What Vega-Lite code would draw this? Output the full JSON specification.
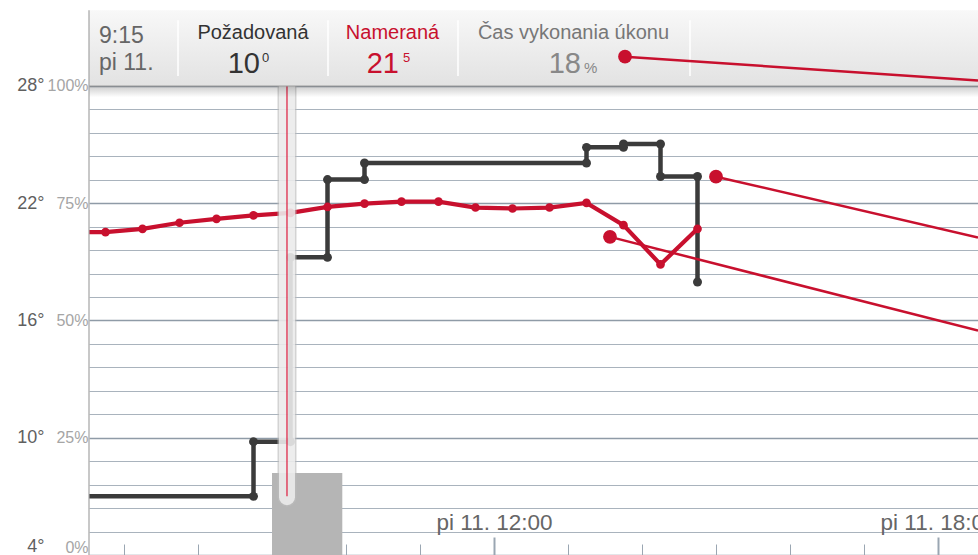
{
  "$schema": "https://vega.github.io/schema/vega-lite/v6.json",
  "width": 889,
  "height": 555,
  "autosize": {"type": "none"},
  "padding": {"left": 89, "top": 0, "right": 0, "bottom": 0},
  "background": "white",
  "config": {"view": {"stroke": null}, "font": "Liberation Sans", "axis": {"labelFont": "Liberation Sans"}},
  "datasets": {
    "required": [
      {"t": "2014-04-11T06:15:00", "v": 7.0},
      {"t": "2014-04-11T08:45:00", "v": 7.0},
      {"t": "2014-04-11T08:45:00", "v": 9.8},
      {"t": "2014-04-11T09:15:00", "v": 9.8},
      {"t": "2014-04-11T09:15:00", "v": 19.23},
      {"t": "2014-04-11T09:45:00", "v": 19.23},
      {"t": "2014-04-11T09:45:00", "v": 23.21},
      {"t": "2014-04-11T10:15:00", "v": 23.21},
      {"t": "2014-04-11T10:15:00", "v": 24.06},
      {"t": "2014-04-11T13:15:00", "v": 24.06},
      {"t": "2014-04-11T13:15:00", "v": 24.86},
      {"t": "2014-04-11T13:45:00", "v": 24.86},
      {"t": "2014-04-11T13:45:00", "v": 25.03},
      {"t": "2014-04-11T14:15:00", "v": 25.03},
      {"t": "2014-04-11T14:15:00", "v": 23.37},
      {"t": "2014-04-11T14:45:00", "v": 23.37},
      {"t": "2014-04-11T14:45:00", "v": 17.97}
    ],
    "measured": [
      {"t": "2014-04-11T06:15:00", "v": 20.53},
      {"t": "2014-04-11T06:45:00", "v": 20.52},
      {"t": "2014-04-11T07:15:00", "v": 20.69},
      {"t": "2014-04-11T07:45:00", "v": 21.0},
      {"t": "2014-04-11T08:15:00", "v": 21.2},
      {"t": "2014-04-11T08:45:00", "v": 21.38},
      {"t": "2014-04-11T09:15:00", "v": 21.51},
      {"t": "2014-04-11T09:45:00", "v": 21.81},
      {"t": "2014-04-11T10:15:00", "v": 21.98},
      {"t": "2014-04-11T10:45:00", "v": 22.08},
      {"t": "2014-04-11T11:15:00", "v": 22.08},
      {"t": "2014-04-11T11:45:00", "v": 21.78},
      {"t": "2014-04-11T12:15:00", "v": 21.73},
      {"t": "2014-04-11T12:45:00", "v": 21.78},
      {"t": "2014-04-11T13:15:00", "v": 22.02},
      {"t": "2014-04-11T13:45:00", "v": 20.88},
      {"t": "2014-04-11T14:15:00", "v": 18.87},
      {"t": "2014-04-11T14:45:00", "v": 20.69}
    ],
    "action": [
      {"start": "2014-04-11T09:00:00", "end": "2014-04-11T09:57:00", "pct": 17.5}
    ],
    "callouts": [
      {"id": "a", "role": "anchor", "t": "2014-04-11T13:46:13", "v": 29.5},
      {"id": "a", "role": "tail", "t": "2014-04-11T18:32:26", "v": 28.28},
      {"id": "b", "role": "anchor", "t": "2014-04-11T15:00:00", "v": 23.36},
      {"id": "b", "role": "tail", "t": "2014-04-11T18:32:26", "v": 20.25},
      {"id": "c", "role": "anchor", "t": "2014-04-11T13:34:03", "v": 20.28},
      {"id": "c", "role": "tail", "t": "2014-04-11T18:32:26", "v": 15.48}
    ],
    "readout": [
      {"time": "9:15", "day": "pi 11.", "req": "10", "reqDec": "0", "meas": "21", "measDec": "5", "pct": "18"}
    ]
  },
  "resolve": {"scale": {"y": "independent"}, "axis": {"y": "independent"}},
  "layer": [
    {
      "data": {"name": "action"},
      "mark": {"type": "bar", "color": "#b5b5b5"},
      "encoding": {
        "x": {"field": "start", "type": "temporal", "axis": {"title": null},
          "scale": {"nice": false, "domain": [
            {"year": 2014, "month": 4, "date": 11, "hours": 6, "minutes": 31, "seconds": 37},
            {"year": 2014, "month": 4, "date": 11, "hours": 18, "minutes": 32, "seconds": 26}]}},
        "x2": {"field": "end"},
        "y": {"field": "pct", "type": "quantitative",
          "scale": {"domain": [0, 118.33], "nice": false, "zero": false},
          "axis": {
            "orient": "left", "title": null,
            "values": [0, 5, 10, 15, 20, 25, 30, 35, 40, 45, 50, 55, 60, 65, 70, 75, 80, 85, 90, 95, 100],
            "labelExpr": "datum.value % 25 == 0 ? datum.value + '%' : ''",
            "ticks": false, "domain": false, "grid": true,
            "gridColor": {"condition": {"test": "datum.value % 25 == 0", "value": "#8f9ba7"}, "value": "#a9b3bd"},
            "gridWidth": {"condition": {"test": "datum.value % 25 == 0", "value": 1.6}, "value": 1},
            "labelPadding": 1, "labelFontSize": 16, "labelColor": "#a5a5a5", "labelFlush": 3
          }},
        "y2": {"datum": 0}
      }
    },
    {
      "layer": [
        {
          "data": {"name": "required"},
          "mark": {"type": "line", "color": "#3b3b3b", "strokeWidth": 4.5, "clip": true},
          "encoding": {
            "x": {"field": "t", "type": "temporal",
              "scale": {"nice": false, "domain": [
                {"year": 2014, "month": 4, "date": 11, "hours": 6, "minutes": 31, "seconds": 37},
                {"year": 2014, "month": 4, "date": 11, "hours": 18, "minutes": 32, "seconds": 26}]},
              "axis": {
                "title": null, "orient": "bottom", "domain": false, "grid": false,
                "values": [
                  {"year": 2014, "month": 4, "date": 11, "hours": 7},
                  {"year": 2014, "month": 4, "date": 11, "hours": 8},
                  {"year": 2014, "month": 4, "date": 11, "hours": 9},
                  {"year": 2014, "month": 4, "date": 11, "hours": 10},
                  {"year": 2014, "month": 4, "date": 11, "hours": 11},
                  {"year": 2014, "month": 4, "date": 11, "hours": 12},
                  {"year": 2014, "month": 4, "date": 11, "hours": 13},
                  {"year": 2014, "month": 4, "date": 11, "hours": 14},
                  {"year": 2014, "month": 4, "date": 11, "hours": 15},
                  {"year": 2014, "month": 4, "date": 11, "hours": 16},
                  {"year": 2014, "month": 4, "date": 11, "hours": 17},
                  {"year": 2014, "month": 4, "date": 11, "hours": 18}
                ],
                "labelExpr": "hours(datum.value) % 6 == 0 ? 'pi 11. ' + timeFormat(datum.value, '%H:%M') : ''",
                "tickSize": {"condition": {"test": "hours(datum.value) % 6 == 0", "value": -18}, "value": -11},
                "tickWidth": {"condition": {"test": "hours(datum.value) % 6 == 0", "value": 2}, "value": 1},
                "tickColor": "#9aa6b2",
                "labelFontSize": 22.5, "labelColor": "#666666", "labelBaseline": "alphabetic",
                "labelPadding": -8, "labelOverlap": false, "labelFlush": false
              }},
            "y": {"field": "v", "type": "quantitative",
              "scale": {"domain": [4, 32.4], "nice": false, "zero": false},
              "axis": {
                "orient": "left", "title": null, "values": [4, 10, 16, 22, 28],
                "labelExpr": "datum.value + '°'", "ticks": false, "domain": false, "grid": false,
                "labelPadding": 45, "labelFontSize": 18, "labelColor": "#5f5f5f", "labelFlush": 3
              }},
            "order": {"value": null}
          }
        },
        {
          "data": {"name": "required"},
          "mark": {"type": "circle", "size": 80, "color": "#3b3b3b", "opacity": 1, "clip": true},
          "encoding": {
            "x": {"field": "t", "type": "temporal", "axis": {"title": null}},
            "y": {"field": "v", "type": "quantitative", "axis": {"title": null}}
          }
        },
        {
          "data": {"name": "measured"},
          "mark": {"type": "line", "color": "#c8102e", "strokeWidth": 4.2, "clip": true},
          "encoding": {
            "x": {"field": "t", "type": "temporal", "axis": {"title": null}},
            "y": {"field": "v", "type": "quantitative", "axis": {"title": null}}
          }
        },
        {
          "data": {"name": "measured"},
          "mark": {"type": "circle", "size": 75, "color": "#c8102e", "opacity": 1, "clip": true},
          "encoding": {
            "x": {"field": "t", "type": "temporal", "axis": {"title": null}},
            "y": {"field": "v", "type": "quantitative", "axis": {"title": null}}
          }
        },
        {
          "data": {"values": [{}]},
          "mark": {"type": "rule", "stroke": "#bcbcbc", "strokeWidth": 19, "strokeCap": "round", "opacity": 0.65},
          "encoding": {
            "x": {"datum": {"year": 2014, "month": 4, "date": 11, "hours": 9, "minutes": 12, "seconds": 9}, "type": "temporal"},
            "y": {"datum": 28}, "y2": {"datum": 6.96}
          }
        },
        {
          "data": {"values": [{}]},
          "mark": {"type": "rule", "stroke": "#f7f7f7", "strokeWidth": 16, "strokeCap": "round", "opacity": 0.72},
          "encoding": {
            "x": {"datum": {"year": 2014, "month": 4, "date": 11, "hours": 9, "minutes": 12, "seconds": 9}, "type": "temporal"},
            "y": {"datum": 28}, "y2": {"datum": 6.96}
          }
        },
        {
          "data": {"values": [{}]},
          "mark": {"type": "rule", "stroke": "#dd1a3c", "strokeWidth": 1.2},
          "encoding": {
            "x": {"datum": {"year": 2014, "month": 4, "date": 11, "hours": 9, "minutes": 12, "seconds": 9}, "type": "temporal"},
            "y": {"datum": 28}, "y2": {"datum": 7.0}
          }
        },
        {
          "data": {"values": [{}]},
          "mark": {"type": "rect", "fill": {"gradient": "linear", "x1": 0, "y1": 0, "x2": 0, "y2": 1,
            "stops": [{"offset": 0, "color": "rgba(0,0,0,0.2)"}, {"offset": 1, "color": "rgba(0,0,0,0)"}]}},
          "encoding": {
            "x": {"datum": {"year": 2014, "month": 4, "date": 11, "hours": 6, "minutes": 31, "seconds": 37}, "type": "temporal"},
            "x2": {"datum": {"year": 2014, "month": 4, "date": 11, "hours": 18, "minutes": 32, "seconds": 26}},
            "y": {"datum": 28}, "y2": {"datum": 27.42}
          }
        },
        {
          "data": {"values": [{}]},
          "mark": {"type": "rect", "fill": {"gradient": "linear", "x1": 0, "y1": 0, "x2": 0, "y2": 1,
            "stops": [{"offset": 0, "color": "#f8f8f8"}, {"offset": 1, "color": "#e2e2e2"}]}},
          "encoding": {
            "x": {"datum": {"year": 2014, "month": 4, "date": 11, "hours": 6, "minutes": 31, "seconds": 37}, "type": "temporal"},
            "x2": {"datum": {"year": 2014, "month": 4, "date": 11, "hours": 18, "minutes": 32, "seconds": 26}},
            "y": {"datum": 31.88}, "y2": {"datum": 28}
          }
        },
        {
          "data": {"values": [{}]},
          "mark": {"type": "rule", "stroke": "#9e9e9e", "strokeWidth": 1.2},
          "encoding": {
            "x": {"datum": {"year": 2014, "month": 4, "date": 11, "hours": 6, "minutes": 31, "seconds": 37}, "type": "temporal"},
            "x2": {"datum": {"year": 2014, "month": 4, "date": 11, "hours": 18, "minutes": 32, "seconds": 26}},
            "y": {"datum": 28}
          }
        },
        {
          "data": {"values": [{}]},
          "mark": {"type": "rule", "stroke": "#ffffff", "strokeWidth": 1.5},
          "encoding": {
            "x": {"datum": {"year": 2014, "month": 4, "date": 11, "hours": 7, "minutes": 43, "seconds": 47}, "type": "temporal"},
            "y": {"datum": 31.37}, "y2": {"datum": 28.51}
          }
        },
        {
          "data": {"values": [{}]},
          "mark": {"type": "rule", "stroke": "#ffffff", "strokeWidth": 1.5},
          "encoding": {
            "x": {"datum": {"year": 2014, "month": 4, "date": 11, "hours": 9, "minutes": 45, "seconds": 24}, "type": "temporal"},
            "y": {"datum": 31.37}, "y2": {"datum": 28.51}
          }
        },
        {
          "data": {"values": [{}]},
          "mark": {"type": "rule", "stroke": "#ffffff", "strokeWidth": 1.5},
          "encoding": {
            "x": {"datum": {"year": 2014, "month": 4, "date": 11, "hours": 11, "minutes": 30, "seconds": 48}, "type": "temporal"},
            "y": {"datum": 31.37}, "y2": {"datum": 28.51}
          }
        },
        {
          "data": {"values": [{}]},
          "mark": {"type": "rule", "stroke": "#ffffff", "strokeWidth": 1.5},
          "encoding": {
            "x": {"datum": {"year": 2014, "month": 4, "date": 11, "hours": 14, "minutes": 38, "seconds": 55}, "type": "temporal"},
            "y": {"datum": 31.37}, "y2": {"datum": 28.51}
          }
        },
        {
          "data": {"name": "readout"},
          "mark": {"type": "text", "align": "left", "baseline": "alphabetic", "fontSize": 23, "color": "#666666"},
          "encoding": {
            "x": {"datum": {"year": 2014, "month": 4, "date": 11, "hours": 6, "minutes": 39, "seconds": 43}, "type": "temporal"},
            "y": {"datum": 30.2},
            "text": {"field": "time"}
          }
        },
        {
          "data": {"name": "readout"},
          "mark": {"type": "text", "align": "left", "baseline": "alphabetic", "fontSize": 23, "color": "#666666"},
          "encoding": {
            "x": {"datum": {"year": 2014, "month": 4, "date": 11, "hours": 6, "minutes": 39, "seconds": 43}, "type": "temporal"},
            "y": {"datum": 28.82},
            "text": {"field": "day"}
          }
        },
        {
          "data": {"values": [{}]},
          "mark": {"type": "text", "text": "Požadovaná", "align": "center", "baseline": "alphabetic", "fontSize": 20, "color": "#333333"},
          "encoding": {
            "x": {"datum": {"year": 2014, "month": 4, "date": 11, "hours": 8, "minutes": 44, "seconds": 35}, "type": "temporal"},
            "y": {"datum": 30.4}
          }
        },
        {
          "data": {"name": "readout"},
          "mark": {"type": "text", "align": "right", "baseline": "alphabetic", "fontSize": 29, "color": "#333333"},
          "encoding": {
            "x": {"datum": {"year": 2014, "month": 4, "date": 11, "hours": 8, "minutes": 50, "seconds": 16}, "type": "temporal"},
            "y": {"datum": 28.66},
            "text": {"field": "req"}
          }
        },
        {
          "data": {"name": "readout"},
          "mark": {"type": "text", "align": "left", "baseline": "alphabetic", "fontSize": 13, "color": "#333333"},
          "encoding": {
            "x": {"datum": {"year": 2014, "month": 4, "date": 11, "hours": 8, "minutes": 51, "seconds": 53}, "type": "temporal"},
            "y": {"datum": 29.22},
            "text": {"field": "reqDec"}
          }
        },
        {
          "data": {"values": [{}]},
          "mark": {"type": "text", "text": "Nameraná", "align": "center", "baseline": "alphabetic", "fontSize": 20, "color": "#c8102e"},
          "encoding": {
            "x": {"datum": {"year": 2014, "month": 4, "date": 11, "hours": 10, "minutes": 37, "seconds": 42}, "type": "temporal"},
            "y": {"datum": 30.4}
          }
        },
        {
          "data": {"name": "readout"},
          "mark": {"type": "text", "align": "right", "baseline": "alphabetic", "fontSize": 29, "color": "#c8102e"},
          "encoding": {
            "x": {"datum": {"year": 2014, "month": 4, "date": 11, "hours": 10, "minutes": 42, "seconds": 58}, "type": "temporal"},
            "y": {"datum": 28.66},
            "text": {"field": "meas"}
          }
        },
        {
          "data": {"name": "readout"},
          "mark": {"type": "text", "align": "left", "baseline": "alphabetic", "fontSize": 13, "color": "#c8102e"},
          "encoding": {
            "x": {"datum": {"year": 2014, "month": 4, "date": 11, "hours": 10, "minutes": 46, "seconds": 12}, "type": "temporal"},
            "y": {"datum": 29.22},
            "text": {"field": "measDec"}
          }
        },
        {
          "data": {"values": [{}]},
          "mark": {"type": "text", "text": "Čas vykonania úkonu", "align": "center", "baseline": "alphabetic", "fontSize": 20, "color": "#777777"},
          "encoding": {
            "x": {"datum": {"year": 2014, "month": 4, "date": 11, "hours": 13, "minutes": 4, "seconds": 27}, "type": "temporal"},
            "y": {"datum": 30.4}
          }
        },
        {
          "data": {"name": "readout"},
          "mark": {"type": "text", "align": "right", "baseline": "alphabetic", "fontSize": 29, "color": "#888888"},
          "encoding": {
            "x": {"datum": {"year": 2014, "month": 4, "date": 11, "hours": 13, "minutes": 10, "seconds": 32}, "type": "temporal"},
            "y": {"datum": 28.66},
            "text": {"field": "pct"}
          }
        },
        {
          "data": {"values": [{}]},
          "mark": {"type": "text", "text": "%", "align": "left", "baseline": "alphabetic", "fontSize": 15, "color": "#888888"},
          "encoding": {
            "x": {"datum": {"year": 2014, "month": 4, "date": 11, "hours": 13, "minutes": 12, "seconds": 58}, "type": "temporal"},
            "y": {"datum": 28.66}
          }
        },
        {
          "data": {"values": [{}]},
          "mark": {"type": "rule", "stroke": "#a3a3a3", "strokeWidth": 1.2},
          "encoding": {
            "x": {"datum": {"year": 2014, "month": 4, "date": 11, "hours": 6, "minutes": 31, "seconds": 37}, "type": "temporal"},
            "y": {"datum": 31.88}, "y2": {"datum": 4}
          }
        },
        {
          "data": {"name": "callouts"},
          "mark": {"type": "line", "color": "#c8102e", "strokeWidth": 2.5},
          "encoding": {
            "x": {"field": "t", "type": "temporal", "axis": {"title": null}},
            "y": {"field": "v", "type": "quantitative", "axis": {"title": null}},
            "detail": {"field": "id"}
          }
        },
        {
          "data": {"name": "callouts"},
          "transform": [{"filter": "datum.role == 'anchor'"}],
          "mark": {"type": "circle", "size": 190, "color": "#c8102e", "opacity": 1},
          "encoding": {
            "x": {"field": "t", "type": "temporal", "axis": {"title": null}},
            "y": {"field": "v", "type": "quantitative", "axis": {"title": null}}
          }
        }
      ]
    }
  ]
}
